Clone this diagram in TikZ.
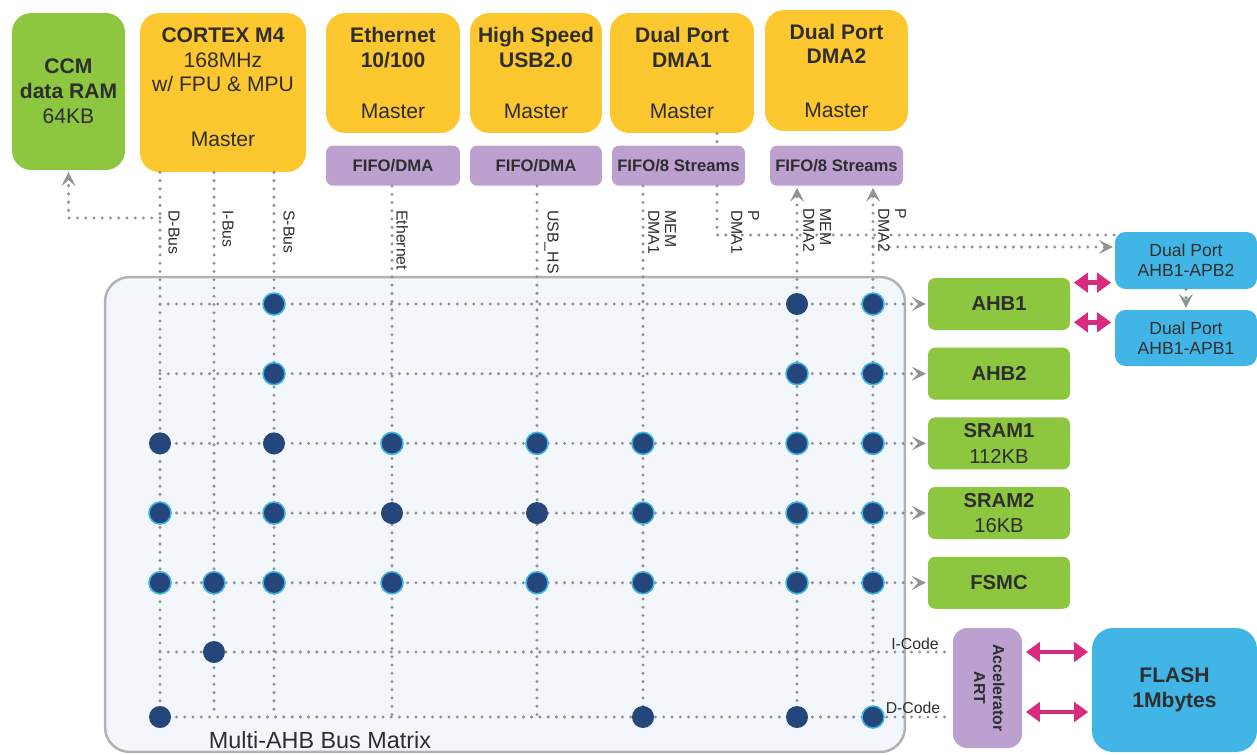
\documentclass[tikz,border=0pt]{standalone}
\usepackage{fontspec}
\setmainfont{Liberation Sans}
\usetikzlibrary{arrows.meta,positioning}
\definecolor{styel}{HTML}{FDC82F}
\definecolor{stgrn}{HTML}{8DC63F}
\definecolor{stpur}{HTML}{BCA0CF}
\definecolor{stblu}{HTML}{41B6E6}
\definecolor{stmag}{HTML}{D92A7E}
\definecolor{mtxbg}{HTML}{F3F6FA}
\definecolor{hubc}{HTML}{24467A}
\definecolor{glow}{HTML}{3CB4E4}
\definecolor{txt}{HTML}{2E2E2E}
\definecolor{dotc}{HTML}{929292}
\tikzset{
  box/.style={rounded corners=4pt,align=center,inner sep=1pt,text=txt},
  mst/.style={box,fill=styel,rounded corners=11pt,minimum height=2.4cm,font=\fontsize{12}{14.2}\selectfont},
  fifo/.style={box,fill=stpur,minimum height=0.8cm,font=\fontsize{9.5}{11}\selectfont\bfseries},
  slv/.style={box,fill=stgrn,minimum width=2.84cm,minimum height=1.04cm,font=\fontsize{11.5}{14.7}\selectfont},
  prt/.style={box,fill=stblu,rounded corners=6pt,minimum width=2.84cm,font=\fontsize{10}{11.5}\selectfont},
  bus/.style={draw=dotc,line width=1.9pt,line cap=round,dash pattern=on 0pt off 4.7pt},
  busa/.style={bus,-{Stealth[length=8pt,width=8pt,inset=3.5pt]},shorten >=1pt},
  dbl/.style={stmag,line width=2.8pt,{Triangle[length=8pt,width=11pt]}-{Triangle[length=8pt,width=11pt]},shorten <=2pt,shorten >=2pt},
  hub/.style={circle,fill=hubc,minimum size=0.44cm,inner sep=0pt},
  hubg/.style={hub,draw=glow,line width=0.9pt},
  lbl/.style={font=\fontsize{9}{9.5}\selectfont,text=txt,inner sep=0pt,rotate=-90,anchor=south west,align=left},
  clbl/.style={font=\fontsize{9}{10}\selectfont,text=txt,inner sep=0pt},
}
\begin{document}
\begin{tikzpicture}[x=0.02cm,y=-0.02cm]
\fill[white] (0,0) rectangle (1257,754);
\useasboundingbox (0,0) rectangle (1257,754);
\node[draw=gray!60,fill=mtxbg,line width=1.4pt,rounded corners=14pt,minimum width=16cm,minimum height=9.5cm,inner sep=0pt] (mtx) at (505,514.5) {};
\node[box,fill=stgrn,rounded corners=11pt,minimum width=2.26cm,minimum height=3.14cm,font=\fontsize{12}{14.2}\selectfont] (ccm) at (68.5,91.5) {\textbf{CCM}\\\textbf{data RAM}\\64KB};
\node[mst,minimum width=3.32cm,minimum height=3.18cm] (cpu) at (223,92.5) {\textbf{CORTEX M4}\\168MHz\\w/ FPU \& MPU\\[17pt]Master\\[-8pt]\mbox{}};
\node[mst,minimum width=2.68cm] (eth) at (393,73) {\textbf{Ethernet}\\\textbf{10/100}\\[14.5pt]Master};
\node[mst,minimum width=2.64cm] (usb) at (536,73) {\textbf{High Speed}\\\textbf{USB2.0}\\[14.5pt]Master};
\node[mst,minimum width=2.88cm] (dma1) at (682,73) {\textbf{Dual Port}\\\textbf{DMA1}\\[14.5pt]Master};
\node[mst,minimum width=2.86cm,minimum height=2.42cm] (dma2) at (836.5,70.5) {\textbf{Dual Port}\\\textbf{DMA2}\\[16pt]Master};
\node[fifo,minimum width=2.68cm,below=0.24cm of eth] (ffeth) {FIFO/DMA};
\node[fifo,minimum width=2.64cm,below=0.24cm of usb] (ffusb) {FIFO/DMA};
\node[fifo,minimum width=2.66cm,below=0.24cm of dma1,xshift=-0.07cm] (ffd1) {FIFO/8 Streams};
\node[fifo,minimum width=2.66cm,below=0.28cm of dma2] (ffd2) {FIFO/8 Streams};
\node[slv] (ahb1) at (999,304) {\textbf{AHB1}};
\node[slv,below=0.34cm of ahb1] (ahb2) {\textbf{AHB2}};
\node[slv,below=0.34cm of ahb2] (sram1) {\textbf{SRAM1}\\112KB};
\node[slv,below=0.34cm of sram1] (sram2) {\textbf{SRAM2}\\16KB};
\node[slv,below=0.34cm of sram2] (fsmc) {\textbf{FSMC}};
\node[prt,minimum height=1.14cm] (apb2) at (1186,260.5) {Dual Port\\AHB1-APB2};
\node[prt,minimum height=1.12cm] (apb1) at (1186,338) {Dual Port\\AHB1-APB1};
\node[box,fill=stpur,rounded corners=8pt,minimum width=1.38cm,minimum height=2.4cm,font=\fontsize{9}{10.8}\selectfont\bfseries] (art) at (987.5,688) {\rotatebox{-90}{\begin{tabular}{@{}c@{}}Accelerator\\ART\end{tabular}}};
\node[box,fill=stblu,rounded corners=12pt,minimum width=3.3cm,minimum height=2.48cm,font=\fontsize{12}{14.2}\selectfont\bfseries] (flash) at (1174.5,690) {FLASH\\1Mbytes};
\foreach \n/\x in {dbus/160,ibus/214,sbus/274,eth/392,usb/537,mi/643,pi/717,mii/797,pii/873}
  \coordinate (c\n) at (\x,0);
\coordinate (ricode) at (0,652);
\coordinate (rdcode) at (0,717);
\coordinate (rflash) at (0,712);
\coordinate (ccmtap) at (160,218);
\coordinate (pitap) at (717,235);
\coordinate (piitap) at (873,247);
\draw[bus] (cpu.south -| cdbus) -- (cdbus |- rdcode);
\draw[bus] (cpu.south -| cibus) -- (cibus |- rdcode);
\draw[bus] (cpu.south -| csbus) -- (csbus |- rdcode);
\draw[bus] (ffeth.south -| ceth) -- (ceth |- rdcode);
\draw[bus] (ffusb.south -| cusb) -- (cusb |- rdcode);
\draw[bus] (ffd1.south -| cmi) -- (cmi |- rdcode);
\draw[busa] (cmii |- rdcode) -- (ffd2.south -| cmii);
\draw[busa] (cpii |- rdcode) -- (ffd2.south -| cpii);
\draw[bus] (dma1.south -| cpi) -- (ffd1.north -| cpi);
\draw[bus] (ffd1.south -| cpi) -- (pitap) -- (apb2.west |- pitap);
\draw[busa] (piitap) -- (apb2.west |- piitap);
\draw[busa] (ccmtap) -| (ccm.south);
\foreach \s in {ahb1,ahb2,sram1,sram2,fsmc}
  \draw[busa] (cdbus |- \s.west) -- (\s.west);
\draw[bus] (cdbus |- ricode) -- (art.west |- ricode);
\draw[bus] (cdbus |- rdcode) -- (art.west |- rdcode);
\draw[busa] (apb2.south) -- (apb1.north);
\draw[dbl] ([yshift=-0.1cm]ahb1.north east) -- ([yshift=-0.1cm]ahb1.north east -| apb2.west);
\draw[dbl] ([yshift=0.16cm]ahb1.south east) -- ([yshift=0.16cm]ahb1.south east -| apb1.west);
\draw[dbl] (art.east |- ricode) -- (flash.west |- ricode);
\draw[dbl] (art.east |- rflash) -- (flash.west |- rflash);
\foreach \c/\r in {sbus/ahb1,pii/ahb1,sbus/ahb2,mii/ahb2,pii/ahb2,eth/sram1,usb/sram1,mi/sram1,mii/sram1,pii/sram1,dbus/sram2,sbus/sram2,mi/sram2,mii/sram2,pii/sram2,dbus/fsmc,ibus/fsmc,sbus/fsmc,eth/fsmc,usb/fsmc,mi/fsmc,mii/fsmc,pii/fsmc,pii/rdcode}
  \node[hubg] (h-\c-\r) at (c\c |- \r) {};
\foreach \c/\r in {mii/ahb1,dbus/sram1,sbus/sram1,eth/sram2,usb/sram2,ibus/ricode,dbus/rdcode,mi/rdcode,mii/rdcode}
  \node[hub] (h-\c-\r) at (c\c |- \r) {};
\node[lbl] (ldbus) at (168,210) {D-Bus};
\node[lbl] (libus) at (222,210) {I-Bus};
\node[lbl] (lsbus) at (283,210) {S-Bus};
\node[lbl] (leth) at (396,210) {Ethernet};
\node[lbl] (lusb) at (544,210) {USB\_HS};
\node[lbl] (lmi) at (648,210) {MEM\\DMA1};
\node[lbl] (lpi) at (731,210) {P\\DMA1};
\node[lbl] (lmii) at (803,208) {MEM\\DMA2};
\node[lbl] (lpii) at (878,208) {P\\DMA2};
\node[clbl] (licode) at (915,644) {I-Code};
\node[clbl] (ldcode) at (913,708) {D-Code};
\node[font=\fontsize{13.3}{16}\selectfont,text=txt] (mlbl) at (320,740) {Multi-AHB Bus Matrix};
\end{tikzpicture}
\end{document}
